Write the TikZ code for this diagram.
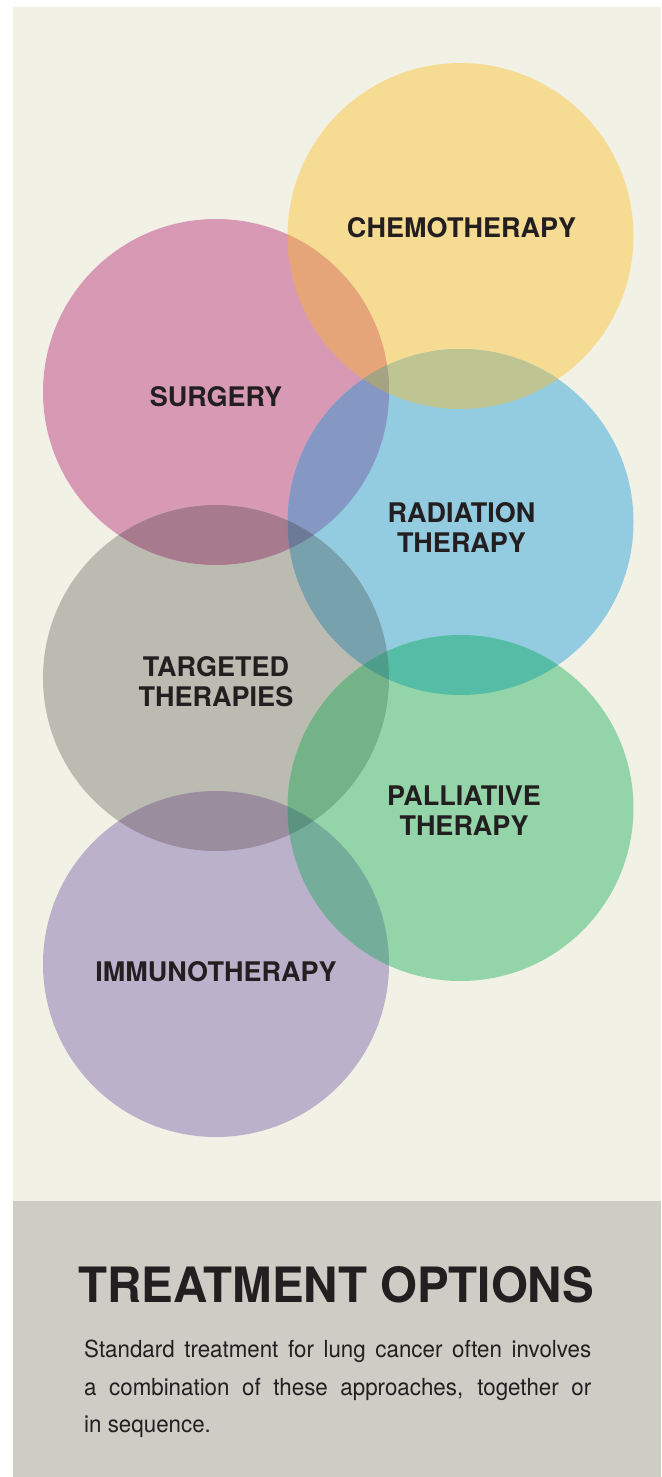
\documentclass[tikz,border=0pt]{standalone}
\usepackage{fontspec}
\setmainfont{TeX Gyre Heros}
\newfontfamily\bodyfont[FakeStretch=0.95]{TeX Gyre Heros}
\definecolor{bgbeige}{HTML}{F2F1E6}
\definecolor{bggrey}{HTML}{CFCCC5}
\definecolor{txt}{HTML}{231F20}
\definecolor{cChemo}{HTML}{F6DB92}
\definecolor{cSurg}{HTML}{D899B4}
\definecolor{cRad}{HTML}{93CBE0}
\definecolor{cTarg}{HTML}{BCBBB2}
\definecolor{cPall}{HTML}{93D4A9}
\definecolor{cImmu}{HTML}{BCB1CA}
\definecolor{xCS}{HTML}{E6A578}
\definecolor{xCR}{HTML}{BEC592}
\definecolor{xSR}{HTML}{8598C4}
\definecolor{xST}{HTML}{A87A8E}
\definecolor{xRT}{HTML}{76A1AD}
\definecolor{xRP}{HTML}{55BDA5}
\definecolor{xTP}{HTML}{74B287}
\definecolor{xTI}{HTML}{9A8E9E}
\definecolor{xPI}{HTML}{74AE9A}
\definecolor{xCSR}{HTML}{A6A383}
\definecolor{xSRT}{HTML}{6C7A98}
\definecolor{xRTP}{HTML}{4C9E8A}
\definecolor{xTPI}{HTML}{5B9280}
\newcommand\crad{173pt}
\newcommand\pairfill[3]{\begin{scope}\clip (#1) circle[radius=\crad];\fill[#3] (#2) circle[radius=\crad];\end{scope}}
\newcommand\triplefill[4]{\begin{scope}\clip (#1) circle[radius=\crad];\clip (#2) circle[radius=\crad];\fill[#4] (#3) circle[radius=\crad];\end{scope}}
\begin{document}
\begin{tikzpicture}[x=1pt,y=-1pt,
  lab/.style={text=txt,align=center,inner sep=0pt,font=\bfseries\fontsize{27}{30}\selectfont},
  bodyline/.style={text=txt,anchor=base west,inner sep=0pt,font=\bodyfont\fontsize{23.5}{30}\selectfont}]
\useasboundingbox (0,0) rectangle (661,1477);
\fill[white] (0,0) rectangle (661,1477);
\fill[bgbeige] (13,7) rectangle (661,1201);
\fill[bggrey] (13,1201) rectangle (661,1477);
\coordinate (ch) at (460.5,236);
\coordinate (su) at (216,392);
\coordinate (ra) at (460.5,522);
\coordinate (ta) at (216,678);
\coordinate (pa) at (460.5,808);
\coordinate (im) at (216,964);
\fill[cChemo] (ch) circle[radius=\crad];
\fill[cSurg] (su) circle[radius=\crad];
\fill[cRad] (ra) circle[radius=\crad];
\fill[cTarg] (ta) circle[radius=\crad];
\fill[cPall] (pa) circle[radius=\crad];
\fill[cImmu] (im) circle[radius=\crad];
\pairfill{ch}{su}{xCS}
\pairfill{ch}{ra}{xCR}
\pairfill{su}{ra}{xSR}
\pairfill{su}{ta}{xST}
\pairfill{ra}{ta}{xRT}
\pairfill{ra}{pa}{xRP}
\pairfill{ta}{pa}{xTP}
\pairfill{ta}{im}{xTI}
\pairfill{pa}{im}{xPI}
\triplefill{ch}{su}{ra}{xCSR}
\triplefill{su}{ra}{ta}{xSRT}
\triplefill{ra}{ta}{pa}{xRTP}
\triplefill{ta}{pa}{im}{xTPI}
\node[lab] (lch) at (461.5,228) {CHEMOTHERAPY};
\node[lab] (lsu) at (216,397) {SURGERY};
\node[lab] (lra) at (461.5,527) {RADIATION\\THERAPY};
\node[lab] (lta) at (216,682) {TARGETED\\THERAPIES};
\node[lab] (lpa) at (464,811) {PALLIATIVE\\THERAPY};
\node[lab] (lim) at (216,972) {IMMUNOTHERAPY};
\node[text=txt,anchor=base,inner sep=0pt,font=\bfseries\fontsize{48.7}{56}\selectfont] (title) at (336,1302) {\scalebox{0.975}[1]{TREATMENT OPTIONS}};
\node[bodyline] (b1) at (84,1357) {\makebox[507pt][s]{Standard treatment for lung cancer often involves}};
\node[bodyline] (b2) at (84,1395) {\makebox[507pt][s]{a combination of these approaches, together or}};
\node[bodyline] (b3) at (84,1432) {in sequence.};
\end{tikzpicture}
\end{document}
